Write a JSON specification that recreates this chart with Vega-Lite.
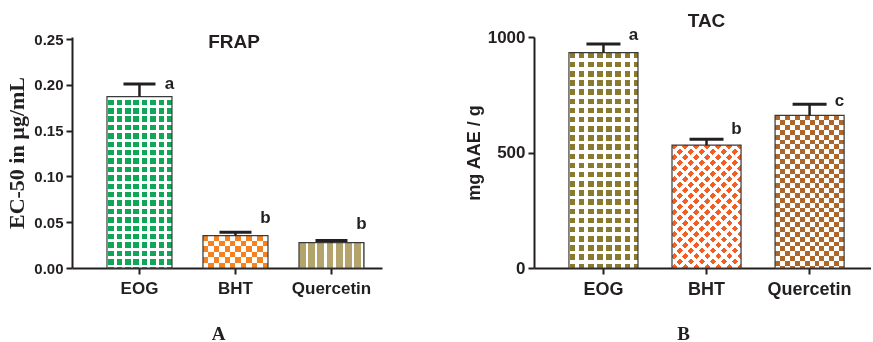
{
  "$schema": "https://vega.github.io/schema/vega-lite/v6.json",
  "background": "white",
  "padding": {"left": 5, "top": 11, "right": 0, "bottom": 0},
  "spacing": 83,
  "datasets": {
    "frap": [
      {"name": "EOG", "value": 0.187, "err": 0.201, "letter": "a", "letter_at": 0.2006},
      {"name": "BHT", "value": 0.0353, "err": 0.039, "letter": "b", "letter_at": 0.055},
      {"name": "Quercetin", "value": 0.0276, "err": 0.030, "letter": "b", "letter_at": 0.048}
    ],
    "tac": [
      {"name": "EOG", "value": 932, "err": 970, "letter": "a", "letter_at": 1009},
      {"name": "BHT", "value": 532, "err": 557, "letter": "b", "letter_at": 603},
      {"name": "Quercetin", "value": 661, "err": 709, "letter": "c", "letter_at": 723}
    ]
  },
  "hconcat": [
    {
      "width": 310,
      "height": 231,
      "data": {"name": "frap"},
      "title": {"text": "FRAP", "offset": -20, "dx": 7},
      "encoding": {
        "x": {
          "field": "name", "type": "nominal", "sort": null,
          "scale": {"domain": ["EOG", "BHT", "Quercetin"], "paddingInner": 0.323, "paddingOuter": 0.276, "align": 0.66},
          "axis": {"title": "A", "titleX": 146, "labelFontSize": 17, "titlePadding": 28}
        },
        "y": {
          "field": "value", "type": "quantitative", "title": "EC-50 in µg/mL",
          "scale": {"domain": [0, 0.2522], "nice": false},
          "axis": {"values": [0, 0.05, 0.1, 0.15, 0.2, 0.25], "format": ".2f", "labelFontSize": 15,
                   "titleFont": "Liberation Serif", "titleFontSize": 22, "titlePadding": 5}
        }
      },
      "layer": [
        {
          "transform": [{"filter": "datum.name === 'EOG'"}],
          "mark": {"type": "bar", "fill": {"gradient": "linear", "x1": 0, "y1": 0, "x2": 1, "y2": 0, "stops": [
            {"offset": 0, "color": "#fff"}, {"offset": 0.02, "color": "#fff"}, {"offset": 0.02, "color": "#10a657"}, {"offset": 0.105, "color": "#10a657"},
            {"offset": 0.105, "color": "#fff"}, {"offset": 0.149, "color": "#fff"}, {"offset": 0.149, "color": "#10a657"}, {"offset": 0.234, "color": "#10a657"},
            {"offset": 0.234, "color": "#fff"}, {"offset": 0.278, "color": "#fff"}, {"offset": 0.278, "color": "#10a657"}, {"offset": 0.363, "color": "#10a657"},
            {"offset": 0.363, "color": "#fff"}, {"offset": 0.407, "color": "#fff"}, {"offset": 0.407, "color": "#10a657"}, {"offset": 0.492, "color": "#10a657"},
            {"offset": 0.492, "color": "#fff"}, {"offset": 0.536, "color": "#fff"}, {"offset": 0.536, "color": "#10a657"}, {"offset": 0.621, "color": "#10a657"},
            {"offset": 0.621, "color": "#fff"}, {"offset": 0.665, "color": "#fff"}, {"offset": 0.665, "color": "#10a657"}, {"offset": 0.75, "color": "#10a657"},
            {"offset": 0.75, "color": "#fff"}, {"offset": 0.794, "color": "#fff"}, {"offset": 0.794, "color": "#10a657"}, {"offset": 0.879, "color": "#10a657"},
            {"offset": 0.879, "color": "#fff"}, {"offset": 0.923, "color": "#fff"}, {"offset": 0.923, "color": "#10a657"}, {"offset": 1, "color": "#10a657"}
          ]}}
        },
        {
          "transform": [{"filter": "datum.name === 'EOG'"}],
          "mark": {"type": "bar", "fill": {"gradient": "linear", "x1": 0, "y1": 0, "x2": 0, "y2": 1, "stops": [
            {"offset": 0, "color": "#fff"}, {"offset": 0.017, "color": "#fff"}, {"offset": 0.017, "color": "rgba(255,255,255,0)"}, {"offset": 0.049, "color": "rgba(255,255,255,0)"},
            {"offset": 0.049, "color": "#fff"}, {"offset": 0.066, "color": "#fff"}, {"offset": 0.066, "color": "rgba(255,255,255,0)"}, {"offset": 0.098, "color": "rgba(255,255,255,0)"},
            {"offset": 0.098, "color": "#fff"}, {"offset": 0.115, "color": "#fff"}, {"offset": 0.115, "color": "rgba(255,255,255,0)"}, {"offset": 0.147, "color": "rgba(255,255,255,0)"},
            {"offset": 0.147, "color": "#fff"}, {"offset": 0.164, "color": "#fff"}, {"offset": 0.164, "color": "rgba(255,255,255,0)"}, {"offset": 0.196, "color": "rgba(255,255,255,0)"},
            {"offset": 0.196, "color": "#fff"}, {"offset": 0.213, "color": "#fff"}, {"offset": 0.213, "color": "rgba(255,255,255,0)"}, {"offset": 0.245, "color": "rgba(255,255,255,0)"},
            {"offset": 0.245, "color": "#fff"}, {"offset": 0.262, "color": "#fff"}, {"offset": 0.262, "color": "rgba(255,255,255,0)"}, {"offset": 0.294, "color": "rgba(255,255,255,0)"},
            {"offset": 0.294, "color": "#fff"}, {"offset": 0.311, "color": "#fff"}, {"offset": 0.311, "color": "rgba(255,255,255,0)"}, {"offset": 0.343, "color": "rgba(255,255,255,0)"},
            {"offset": 0.343, "color": "#fff"}, {"offset": 0.36, "color": "#fff"}, {"offset": 0.36, "color": "rgba(255,255,255,0)"}, {"offset": 0.392, "color": "rgba(255,255,255,0)"},
            {"offset": 0.392, "color": "#fff"}, {"offset": 0.409, "color": "#fff"}, {"offset": 0.409, "color": "rgba(255,255,255,0)"}, {"offset": 0.441, "color": "rgba(255,255,255,0)"},
            {"offset": 0.441, "color": "#fff"}, {"offset": 0.458, "color": "#fff"}, {"offset": 0.458, "color": "rgba(255,255,255,0)"}, {"offset": 0.49, "color": "rgba(255,255,255,0)"},
            {"offset": 0.49, "color": "#fff"}, {"offset": 0.507, "color": "#fff"}, {"offset": 0.507, "color": "rgba(255,255,255,0)"}, {"offset": 0.539, "color": "rgba(255,255,255,0)"},
            {"offset": 0.539, "color": "#fff"}, {"offset": 0.556, "color": "#fff"}, {"offset": 0.556, "color": "rgba(255,255,255,0)"}, {"offset": 0.588, "color": "rgba(255,255,255,0)"},
            {"offset": 0.588, "color": "#fff"}, {"offset": 0.605, "color": "#fff"}, {"offset": 0.605, "color": "rgba(255,255,255,0)"}, {"offset": 0.637, "color": "rgba(255,255,255,0)"},
            {"offset": 0.637, "color": "#fff"}, {"offset": 0.654, "color": "#fff"}, {"offset": 0.654, "color": "rgba(255,255,255,0)"}, {"offset": 0.686, "color": "rgba(255,255,255,0)"},
            {"offset": 0.686, "color": "#fff"}, {"offset": 0.703, "color": "#fff"}, {"offset": 0.703, "color": "rgba(255,255,255,0)"}, {"offset": 0.735, "color": "rgba(255,255,255,0)"},
            {"offset": 0.735, "color": "#fff"}, {"offset": 0.752, "color": "#fff"}, {"offset": 0.752, "color": "rgba(255,255,255,0)"}, {"offset": 0.784, "color": "rgba(255,255,255,0)"},
            {"offset": 0.784, "color": "#fff"}, {"offset": 0.801, "color": "#fff"}, {"offset": 0.801, "color": "rgba(255,255,255,0)"}, {"offset": 0.833, "color": "rgba(255,255,255,0)"},
            {"offset": 0.833, "color": "#fff"}, {"offset": 0.85, "color": "#fff"}, {"offset": 0.85, "color": "rgba(255,255,255,0)"}, {"offset": 0.882, "color": "rgba(255,255,255,0)"},
            {"offset": 0.882, "color": "#fff"}, {"offset": 0.899, "color": "#fff"}, {"offset": 0.899, "color": "rgba(255,255,255,0)"}, {"offset": 0.931, "color": "rgba(255,255,255,0)"},
            {"offset": 0.931, "color": "#fff"}, {"offset": 0.948, "color": "#fff"}, {"offset": 0.948, "color": "rgba(255,255,255,0)"}, {"offset": 0.98, "color": "rgba(255,255,255,0)"},
            {"offset": 0.98, "color": "#fff"}, {"offset": 0.997, "color": "#fff"}, {"offset": 0.997, "color": "rgba(255,255,255,0)"}, {"offset": 1, "color": "rgba(255,255,255,0)"}
          ]}}
        },
        {
          "transform": [{"filter": "datum.name === 'BHT'"}],
          "mark": {"type": "bar", "fill": {"gradient": "linear", "x1": 0, "y1": 0, "x2": 1, "y2": 0, "stops": [
            {"offset": 0, "color": "#000"}, {"offset": 0.0833, "color": "#000"}, {"offset": 0.0833, "color": "#fff"}, {"offset": 0.1667, "color": "#fff"},
            {"offset": 0.1667, "color": "#000"}, {"offset": 0.25, "color": "#000"}, {"offset": 0.25, "color": "#fff"}, {"offset": 0.3333, "color": "#fff"},
            {"offset": 0.3333, "color": "#000"}, {"offset": 0.4167, "color": "#000"}, {"offset": 0.4167, "color": "#fff"}, {"offset": 0.5, "color": "#fff"},
            {"offset": 0.5, "color": "#000"}, {"offset": 0.5833, "color": "#000"}, {"offset": 0.5833, "color": "#fff"}, {"offset": 0.6667, "color": "#fff"},
            {"offset": 0.6667, "color": "#000"}, {"offset": 0.75, "color": "#000"}, {"offset": 0.75, "color": "#fff"}, {"offset": 0.8333, "color": "#fff"},
            {"offset": 0.8333, "color": "#000"}, {"offset": 0.9167, "color": "#000"}, {"offset": 0.9167, "color": "#fff"}, {"offset": 1, "color": "#fff"}
          ]}}
        },
        {
          "transform": [{"filter": "datum.name === 'BHT'"}],
          "mark": {"type": "bar", "blend": "difference", "fill": {"gradient": "linear", "x1": 0, "y1": 0, "x2": 0, "y2": 1, "stops": [
            {"offset": 0, "color": "rgba(255,255,255,0)"}, {"offset": 0.1667, "color": "rgba(255,255,255,0)"}, {"offset": 0.1667, "color": "#fff"}, {"offset": 0.3333, "color": "#fff"},
            {"offset": 0.3333, "color": "rgba(255,255,255,0)"}, {"offset": 0.5, "color": "rgba(255,255,255,0)"}, {"offset": 0.5, "color": "#fff"}, {"offset": 0.6667, "color": "#fff"},
            {"offset": 0.6667, "color": "rgba(255,255,255,0)"}, {"offset": 0.8333, "color": "rgba(255,255,255,0)"}, {"offset": 0.8333, "color": "#fff"}, {"offset": 1, "color": "#fff"}
          ]}}
        },
        {
          "transform": [{"filter": "datum.name === 'BHT'"}],
          "mark": {"type": "bar", "blend": "lighten", "fill": "#f5821f"}
        },
        {
          "transform": [{"filter": "datum.name === 'Quercetin'"}],
          "mark": {"type": "bar", "fill": {"gradient": "linear", "x1": 0, "y1": 0, "x2": 1, "y2": 0, "stops": [
            {"offset": 0, "color": "#b2a46c"}, {"offset": 0.1035, "color": "#b2a46c"}, {"offset": 0.1035, "color": "#fff"}, {"offset": 0.1415, "color": "#fff"},
            {"offset": 0.1415, "color": "#b2a46c"}, {"offset": 0.245, "color": "#b2a46c"}, {"offset": 0.245, "color": "#fff"}, {"offset": 0.283, "color": "#fff"},
            {"offset": 0.283, "color": "#b2a46c"}, {"offset": 0.3865, "color": "#b2a46c"}, {"offset": 0.3865, "color": "#fff"}, {"offset": 0.4245, "color": "#fff"},
            {"offset": 0.4245, "color": "#b2a46c"}, {"offset": 0.528, "color": "#b2a46c"}, {"offset": 0.528, "color": "#fff"}, {"offset": 0.566, "color": "#fff"},
            {"offset": 0.566, "color": "#b2a46c"}, {"offset": 0.6695, "color": "#b2a46c"}, {"offset": 0.6695, "color": "#fff"}, {"offset": 0.7075, "color": "#fff"},
            {"offset": 0.7075, "color": "#b2a46c"}, {"offset": 0.811, "color": "#b2a46c"}, {"offset": 0.811, "color": "#fff"}, {"offset": 0.849, "color": "#fff"},
            {"offset": 0.849, "color": "#b2a46c"}, {"offset": 0.9525, "color": "#b2a46c"}, {"offset": 0.9525, "color": "#fff"}, {"offset": 0.9905, "color": "#fff"},
            {"offset": 0.9905, "color": "#b2a46c"}, {"offset": 1, "color": "#b2a46c"}
          ]}}
        },
        {
          "mark": {"type": "bar", "fill": "transparent", "stroke": "#3a3a3a", "strokeWidth": 1.2}
        },
        {
          "mark": {"type": "rule", "color": "#231f20", "strokeWidth": 2.5},
          "encoding": {
            "y": {"field": "value", "type": "quantitative", "title": "EC-50 in µg/mL", "scale": {"domain": [0, 0.2522], "nice": false}},
            "y2": {"field": "err"}
          }
        },
        {
          "mark": {"type": "tick", "color": "#231f20", "thickness": 3, "size": 32, "opacity": 1, "orient": "horizontal"},
          "encoding": {
            "y": {"field": "err", "type": "quantitative", "title": "EC-50 in µg/mL", "scale": {"domain": [0, 0.2522], "nice": false}}
          }
        },
        {
          "mark": {"type": "text", "font": "Liberation Sans", "fontWeight": "bold", "fontSize": 17, "color": "#231f20", "dx": 30, "baseline": "middle", "align": "center"},
          "encoding": {
            "y": {"field": "letter_at", "type": "quantitative", "title": "EC-50 in µg/mL", "scale": {"domain": [0, 0.2522], "nice": false}},
            "text": {"field": "letter"}
          }
        }
      ]
    },
    {
      "width": 337,
      "height": 231,
      "data": {"name": "tac"},
      "title": {"text": "TAC", "offset": -5, "dx": 4},
      "encoding": {
        "x": {
          "field": "name", "type": "nominal", "sort": null,
          "scale": {"domain": ["EOG", "BHT", "Quercetin"], "paddingInner": 0.33, "paddingOuter": 0.3, "align": 0.565},
          "axis": {"title": "B", "titleX": 149, "labelFontSize": 18, "titlePadding": 26}
        },
        "y": {
          "field": "value", "type": "quantitative", "title": "mg AAE / g",
          "scale": {"domain": [0, 1000], "nice": false},
          "axis": {"values": [0, 500, 1000], "format": "d", "labelFontSize": 17, "titleFont": "Liberation Sans", "titleFontSize": 18, "titlePadding": 4}
        }
      },
      "layer": [
        {
          "transform": [{"filter": "datum.name === 'EOG'"}],
          "mark": {"type": "bar", "fill": {"gradient": "linear", "x1": 0, "y1": 0, "x2": 1, "y2": 0, "stops": [
            {"offset": 0, "color": "#fff"}, {"offset": 0.01, "color": "#fff"}, {"offset": 0.01, "color": "#8a7a30"}, {"offset": 0.09, "color": "#8a7a30"},
            {"offset": 0.09, "color": "#fff"}, {"offset": 0.143, "color": "#fff"}, {"offset": 0.143, "color": "#8a7a30"}, {"offset": 0.223, "color": "#8a7a30"},
            {"offset": 0.223, "color": "#fff"}, {"offset": 0.276, "color": "#fff"}, {"offset": 0.276, "color": "#8a7a30"}, {"offset": 0.356, "color": "#8a7a30"},
            {"offset": 0.356, "color": "#fff"}, {"offset": 0.409, "color": "#fff"}, {"offset": 0.409, "color": "#8a7a30"}, {"offset": 0.489, "color": "#8a7a30"},
            {"offset": 0.489, "color": "#fff"}, {"offset": 0.542, "color": "#fff"}, {"offset": 0.542, "color": "#8a7a30"}, {"offset": 0.622, "color": "#8a7a30"},
            {"offset": 0.622, "color": "#fff"}, {"offset": 0.674, "color": "#fff"}, {"offset": 0.674, "color": "#8a7a30"}, {"offset": 0.754, "color": "#8a7a30"},
            {"offset": 0.754, "color": "#fff"}, {"offset": 0.807, "color": "#fff"}, {"offset": 0.807, "color": "#8a7a30"}, {"offset": 0.887, "color": "#8a7a30"},
            {"offset": 0.887, "color": "#fff"}, {"offset": 0.94, "color": "#fff"}, {"offset": 0.94, "color": "#8a7a30"}, {"offset": 1, "color": "#8a7a30"}
          ]}}
        },
        {
          "transform": [{"filter": "datum.name === 'EOG'"}],
          "mark": {"type": "bar", "fill": {"gradient": "linear", "x1": 0, "y1": 0, "x2": 0, "y2": 1, "stops": [
            {"offset": 0, "color": "rgba(255,255,255,0)"}, {"offset": 0.0256, "color": "rgba(255,255,255,0)"},
            {"offset": 0.0256, "color": "#fff"}, {"offset": 0.0426, "color": "#fff"}, {"offset": 0.0426, "color": "rgba(255,255,255,0)"}, {"offset": 0.0682, "color": "rgba(255,255,255,0)"},
            {"offset": 0.0682, "color": "#fff"}, {"offset": 0.0852, "color": "#fff"}, {"offset": 0.0852, "color": "rgba(255,255,255,0)"}, {"offset": 0.1108, "color": "rgba(255,255,255,0)"},
            {"offset": 0.1108, "color": "#fff"}, {"offset": 0.1278, "color": "#fff"}, {"offset": 0.1278, "color": "rgba(255,255,255,0)"}, {"offset": 0.1534, "color": "rgba(255,255,255,0)"},
            {"offset": 0.1534, "color": "#fff"}, {"offset": 0.1704, "color": "#fff"}, {"offset": 0.1704, "color": "rgba(255,255,255,0)"}, {"offset": 0.196, "color": "rgba(255,255,255,0)"},
            {"offset": 0.196, "color": "#fff"}, {"offset": 0.213, "color": "#fff"}, {"offset": 0.213, "color": "rgba(255,255,255,0)"}, {"offset": 0.2386, "color": "rgba(255,255,255,0)"},
            {"offset": 0.2386, "color": "#fff"}, {"offset": 0.2556, "color": "#fff"}, {"offset": 0.2556, "color": "rgba(255,255,255,0)"}, {"offset": 0.2812, "color": "rgba(255,255,255,0)"},
            {"offset": 0.2812, "color": "#fff"}, {"offset": 0.2982, "color": "#fff"}, {"offset": 0.2982, "color": "rgba(255,255,255,0)"}, {"offset": 0.3238, "color": "rgba(255,255,255,0)"},
            {"offset": 0.3238, "color": "#fff"}, {"offset": 0.3408, "color": "#fff"}, {"offset": 0.3408, "color": "rgba(255,255,255,0)"}, {"offset": 0.3664, "color": "rgba(255,255,255,0)"},
            {"offset": 0.3664, "color": "#fff"}, {"offset": 0.3834, "color": "#fff"}, {"offset": 0.3834, "color": "rgba(255,255,255,0)"}, {"offset": 0.409, "color": "rgba(255,255,255,0)"},
            {"offset": 0.409, "color": "#fff"}, {"offset": 0.426, "color": "#fff"}, {"offset": 0.426, "color": "rgba(255,255,255,0)"}, {"offset": 0.4516, "color": "rgba(255,255,255,0)"},
            {"offset": 0.4516, "color": "#fff"}, {"offset": 0.4686, "color": "#fff"}, {"offset": 0.4686, "color": "rgba(255,255,255,0)"}, {"offset": 0.4942, "color": "rgba(255,255,255,0)"},
            {"offset": 0.4942, "color": "#fff"}, {"offset": 0.5112, "color": "#fff"}, {"offset": 0.5112, "color": "rgba(255,255,255,0)"}, {"offset": 0.5368, "color": "rgba(255,255,255,0)"},
            {"offset": 0.5368, "color": "#fff"}, {"offset": 0.5538, "color": "#fff"}, {"offset": 0.5538, "color": "rgba(255,255,255,0)"}, {"offset": 0.5794, "color": "rgba(255,255,255,0)"},
            {"offset": 0.5794, "color": "#fff"}, {"offset": 0.5964, "color": "#fff"}, {"offset": 0.5964, "color": "rgba(255,255,255,0)"}, {"offset": 0.622, "color": "rgba(255,255,255,0)"},
            {"offset": 0.622, "color": "#fff"}, {"offset": 0.639, "color": "#fff"}, {"offset": 0.639, "color": "rgba(255,255,255,0)"}, {"offset": 0.6646, "color": "rgba(255,255,255,0)"},
            {"offset": 0.6646, "color": "#fff"}, {"offset": 0.6816, "color": "#fff"}, {"offset": 0.6816, "color": "rgba(255,255,255,0)"}, {"offset": 0.7072, "color": "rgba(255,255,255,0)"},
            {"offset": 0.7072, "color": "#fff"}, {"offset": 0.7242, "color": "#fff"}, {"offset": 0.7242, "color": "rgba(255,255,255,0)"}, {"offset": 0.7498, "color": "rgba(255,255,255,0)"},
            {"offset": 0.7498, "color": "#fff"}, {"offset": 0.7668, "color": "#fff"}, {"offset": 0.7668, "color": "rgba(255,255,255,0)"}, {"offset": 0.7924, "color": "rgba(255,255,255,0)"},
            {"offset": 0.7924, "color": "#fff"}, {"offset": 0.8094, "color": "#fff"}, {"offset": 0.8094, "color": "rgba(255,255,255,0)"}, {"offset": 0.835, "color": "rgba(255,255,255,0)"},
            {"offset": 0.835, "color": "#fff"}, {"offset": 0.852, "color": "#fff"}, {"offset": 0.852, "color": "rgba(255,255,255,0)"}, {"offset": 0.8776, "color": "rgba(255,255,255,0)"},
            {"offset": 0.8776, "color": "#fff"}, {"offset": 0.8946, "color": "#fff"}, {"offset": 0.8946, "color": "rgba(255,255,255,0)"}, {"offset": 0.9202, "color": "rgba(255,255,255,0)"},
            {"offset": 0.9202, "color": "#fff"}, {"offset": 0.9372, "color": "#fff"}, {"offset": 0.9372, "color": "rgba(255,255,255,0)"}, {"offset": 0.9628, "color": "rgba(255,255,255,0)"},
            {"offset": 0.9628, "color": "#fff"}, {"offset": 0.9798, "color": "#fff"}, {"offset": 0.9798, "color": "rgba(255,255,255,0)"}, {"offset": 1, "color": "rgba(255,255,255,0)"}
          ]}}
        },
        {
          "transform": [{"filter": "datum.name === 'BHT'"}],
          "mark": {"type": "bar", "fill": "#f15f24"}
        },
        {
          "transform": [{"filter": "datum.name === 'BHT'"}],
          "mark": {"type": "bar", "fill": {"gradient": "linear", "x1": 0, "y1": 0, "x2": 0.6665, "y2": 1.1873, "stops": [
            {"offset": 0, "color": "rgba(255,255,255,0)"}, {"offset": 0.0323, "color": "rgba(255,255,255,0)"},
            {"offset": 0.0323, "color": "#fff"}, {"offset": 0.0573, "color": "#fff"}, {"offset": 0.0573, "color": "rgba(255,255,255,0)"}, {"offset": 0.0896, "color": "rgba(255,255,255,0)"},
            {"offset": 0.0896, "color": "#fff"}, {"offset": 0.1146, "color": "#fff"}, {"offset": 0.1146, "color": "rgba(255,255,255,0)"}, {"offset": 0.1469, "color": "rgba(255,255,255,0)"},
            {"offset": 0.1469, "color": "#fff"}, {"offset": 0.1719, "color": "#fff"}, {"offset": 0.1719, "color": "rgba(255,255,255,0)"}, {"offset": 0.2042, "color": "rgba(255,255,255,0)"},
            {"offset": 0.2042, "color": "#fff"}, {"offset": 0.2292, "color": "#fff"}, {"offset": 0.2292, "color": "rgba(255,255,255,0)"}, {"offset": 0.2615, "color": "rgba(255,255,255,0)"},
            {"offset": 0.2615, "color": "#fff"}, {"offset": 0.2865, "color": "#fff"}, {"offset": 0.2865, "color": "rgba(255,255,255,0)"}, {"offset": 0.3188, "color": "rgba(255,255,255,0)"},
            {"offset": 0.3188, "color": "#fff"}, {"offset": 0.3438, "color": "#fff"}, {"offset": 0.3438, "color": "rgba(255,255,255,0)"}, {"offset": 0.3761, "color": "rgba(255,255,255,0)"},
            {"offset": 0.3761, "color": "#fff"}, {"offset": 0.4011, "color": "#fff"}, {"offset": 0.4011, "color": "rgba(255,255,255,0)"}, {"offset": 0.4334, "color": "rgba(255,255,255,0)"},
            {"offset": 0.4334, "color": "#fff"}, {"offset": 0.4584, "color": "#fff"}, {"offset": 0.4584, "color": "rgba(255,255,255,0)"}, {"offset": 0.4907, "color": "rgba(255,255,255,0)"},
            {"offset": 0.4907, "color": "#fff"}, {"offset": 0.5157, "color": "#fff"}, {"offset": 0.5157, "color": "rgba(255,255,255,0)"}, {"offset": 0.548, "color": "rgba(255,255,255,0)"},
            {"offset": 0.548, "color": "#fff"}, {"offset": 0.573, "color": "#fff"}, {"offset": 0.573, "color": "rgba(255,255,255,0)"}, {"offset": 0.6053, "color": "rgba(255,255,255,0)"},
            {"offset": 0.6053, "color": "#fff"}, {"offset": 0.6303, "color": "#fff"}, {"offset": 0.6303, "color": "rgba(255,255,255,0)"}, {"offset": 0.6626, "color": "rgba(255,255,255,0)"},
            {"offset": 0.6626, "color": "#fff"}, {"offset": 0.6876, "color": "#fff"}, {"offset": 0.6876, "color": "rgba(255,255,255,0)"}, {"offset": 0.7199, "color": "rgba(255,255,255,0)"},
            {"offset": 0.7199, "color": "#fff"}, {"offset": 0.7449, "color": "#fff"}, {"offset": 0.7449, "color": "rgba(255,255,255,0)"}, {"offset": 0.7772, "color": "rgba(255,255,255,0)"},
            {"offset": 0.7772, "color": "#fff"}, {"offset": 0.8022, "color": "#fff"}, {"offset": 0.8022, "color": "rgba(255,255,255,0)"}, {"offset": 0.8345, "color": "rgba(255,255,255,0)"},
            {"offset": 0.8345, "color": "#fff"}, {"offset": 0.8595, "color": "#fff"}, {"offset": 0.8595, "color": "rgba(255,255,255,0)"}, {"offset": 0.8918, "color": "rgba(255,255,255,0)"},
            {"offset": 0.8918, "color": "#fff"}, {"offset": 0.9168, "color": "#fff"}, {"offset": 0.9168, "color": "rgba(255,255,255,0)"}, {"offset": 0.9491, "color": "rgba(255,255,255,0)"},
            {"offset": 0.9491, "color": "#fff"}, {"offset": 0.9741, "color": "#fff"}, {"offset": 0.9741, "color": "rgba(255,255,255,0)"}, {"offset": 1, "color": "rgba(255,255,255,0)"}
          ]}}
        },
        {
          "transform": [{"filter": "datum.name === 'BHT'"}],
          "mark": {"type": "bar", "fill": {"gradient": "linear", "x1": 0, "y1": 1, "x2": 0.6665, "y2": -0.1873, "stops": [
            {"offset": 0, "color": "rgba(255,255,255,0)"}, {"offset": 0.0323, "color": "rgba(255,255,255,0)"},
            {"offset": 0.0323, "color": "#fff"}, {"offset": 0.0573, "color": "#fff"}, {"offset": 0.0573, "color": "rgba(255,255,255,0)"}, {"offset": 0.0896, "color": "rgba(255,255,255,0)"},
            {"offset": 0.0896, "color": "#fff"}, {"offset": 0.1146, "color": "#fff"}, {"offset": 0.1146, "color": "rgba(255,255,255,0)"}, {"offset": 0.1469, "color": "rgba(255,255,255,0)"},
            {"offset": 0.1469, "color": "#fff"}, {"offset": 0.1719, "color": "#fff"}, {"offset": 0.1719, "color": "rgba(255,255,255,0)"}, {"offset": 0.2042, "color": "rgba(255,255,255,0)"},
            {"offset": 0.2042, "color": "#fff"}, {"offset": 0.2292, "color": "#fff"}, {"offset": 0.2292, "color": "rgba(255,255,255,0)"}, {"offset": 0.2615, "color": "rgba(255,255,255,0)"},
            {"offset": 0.2615, "color": "#fff"}, {"offset": 0.2865, "color": "#fff"}, {"offset": 0.2865, "color": "rgba(255,255,255,0)"}, {"offset": 0.3188, "color": "rgba(255,255,255,0)"},
            {"offset": 0.3188, "color": "#fff"}, {"offset": 0.3438, "color": "#fff"}, {"offset": 0.3438, "color": "rgba(255,255,255,0)"}, {"offset": 0.3761, "color": "rgba(255,255,255,0)"},
            {"offset": 0.3761, "color": "#fff"}, {"offset": 0.4011, "color": "#fff"}, {"offset": 0.4011, "color": "rgba(255,255,255,0)"}, {"offset": 0.4334, "color": "rgba(255,255,255,0)"},
            {"offset": 0.4334, "color": "#fff"}, {"offset": 0.4584, "color": "#fff"}, {"offset": 0.4584, "color": "rgba(255,255,255,0)"}, {"offset": 0.4907, "color": "rgba(255,255,255,0)"},
            {"offset": 0.4907, "color": "#fff"}, {"offset": 0.5157, "color": "#fff"}, {"offset": 0.5157, "color": "rgba(255,255,255,0)"}, {"offset": 0.548, "color": "rgba(255,255,255,0)"},
            {"offset": 0.548, "color": "#fff"}, {"offset": 0.573, "color": "#fff"}, {"offset": 0.573, "color": "rgba(255,255,255,0)"}, {"offset": 0.6053, "color": "rgba(255,255,255,0)"},
            {"offset": 0.6053, "color": "#fff"}, {"offset": 0.6303, "color": "#fff"}, {"offset": 0.6303, "color": "rgba(255,255,255,0)"}, {"offset": 0.6626, "color": "rgba(255,255,255,0)"},
            {"offset": 0.6626, "color": "#fff"}, {"offset": 0.6876, "color": "#fff"}, {"offset": 0.6876, "color": "rgba(255,255,255,0)"}, {"offset": 0.7199, "color": "rgba(255,255,255,0)"},
            {"offset": 0.7199, "color": "#fff"}, {"offset": 0.7449, "color": "#fff"}, {"offset": 0.7449, "color": "rgba(255,255,255,0)"}, {"offset": 0.7772, "color": "rgba(255,255,255,0)"},
            {"offset": 0.7772, "color": "#fff"}, {"offset": 0.8022, "color": "#fff"}, {"offset": 0.8022, "color": "rgba(255,255,255,0)"}, {"offset": 0.8345, "color": "rgba(255,255,255,0)"},
            {"offset": 0.8345, "color": "#fff"}, {"offset": 0.8595, "color": "#fff"}, {"offset": 0.8595, "color": "rgba(255,255,255,0)"}, {"offset": 0.8918, "color": "rgba(255,255,255,0)"},
            {"offset": 0.8918, "color": "#fff"}, {"offset": 0.9168, "color": "#fff"}, {"offset": 0.9168, "color": "rgba(255,255,255,0)"}, {"offset": 0.9491, "color": "rgba(255,255,255,0)"},
            {"offset": 0.9491, "color": "#fff"}, {"offset": 0.9741, "color": "#fff"}, {"offset": 0.9741, "color": "rgba(255,255,255,0)"}, {"offset": 1, "color": "rgba(255,255,255,0)"}
          ]}}
        },
        {
          "transform": [{"filter": "datum.name === 'Quercetin'"}],
          "mark": {"type": "bar", "fill": {"gradient": "linear", "x1": 0, "y1": 0, "x2": 1, "y2": 0, "stops": [
            {"offset": 0, "color": "#000"}, {"offset": 0.0714, "color": "#000"}, {"offset": 0.0714, "color": "#fff"}, {"offset": 0.1429, "color": "#fff"},
            {"offset": 0.1429, "color": "#000"}, {"offset": 0.2143, "color": "#000"}, {"offset": 0.2143, "color": "#fff"}, {"offset": 0.2857, "color": "#fff"},
            {"offset": 0.2857, "color": "#000"}, {"offset": 0.3571, "color": "#000"}, {"offset": 0.3571, "color": "#fff"}, {"offset": 0.4286, "color": "#fff"},
            {"offset": 0.4286, "color": "#000"}, {"offset": 0.5, "color": "#000"}, {"offset": 0.5, "color": "#fff"}, {"offset": 0.5714, "color": "#fff"},
            {"offset": 0.5714, "color": "#000"}, {"offset": 0.6429, "color": "#000"}, {"offset": 0.6429, "color": "#fff"}, {"offset": 0.7143, "color": "#fff"},
            {"offset": 0.7143, "color": "#000"}, {"offset": 0.7857, "color": "#000"}, {"offset": 0.7857, "color": "#fff"}, {"offset": 0.8571, "color": "#fff"},
            {"offset": 0.8571, "color": "#000"}, {"offset": 0.9286, "color": "#000"}, {"offset": 0.9286, "color": "#fff"}, {"offset": 1, "color": "#fff"}
          ]}}
        },
        {
          "transform": [{"filter": "datum.name === 'Quercetin'"}],
          "mark": {"type": "bar", "blend": "difference", "fill": {"gradient": "linear", "x1": 0, "y1": 0, "x2": 0, "y2": 1, "stops": [
            {"offset": 0, "color": "rgba(255,255,255,0)"}, {"offset": 0.0318, "color": "rgba(255,255,255,0)"},
            {"offset": 0.0318, "color": "#fff"}, {"offset": 0.0636, "color": "#fff"}, {"offset": 0.0636, "color": "rgba(255,255,255,0)"}, {"offset": 0.0954, "color": "rgba(255,255,255,0)"},
            {"offset": 0.0954, "color": "#fff"}, {"offset": 0.1272, "color": "#fff"}, {"offset": 0.1272, "color": "rgba(255,255,255,0)"}, {"offset": 0.159, "color": "rgba(255,255,255,0)"},
            {"offset": 0.159, "color": "#fff"}, {"offset": 0.1908, "color": "#fff"}, {"offset": 0.1908, "color": "rgba(255,255,255,0)"}, {"offset": 0.2226, "color": "rgba(255,255,255,0)"},
            {"offset": 0.2226, "color": "#fff"}, {"offset": 0.2544, "color": "#fff"}, {"offset": 0.2544, "color": "rgba(255,255,255,0)"}, {"offset": 0.2862, "color": "rgba(255,255,255,0)"},
            {"offset": 0.2862, "color": "#fff"}, {"offset": 0.318, "color": "#fff"}, {"offset": 0.318, "color": "rgba(255,255,255,0)"}, {"offset": 0.3498, "color": "rgba(255,255,255,0)"},
            {"offset": 0.3498, "color": "#fff"}, {"offset": 0.3816, "color": "#fff"}, {"offset": 0.3816, "color": "rgba(255,255,255,0)"}, {"offset": 0.4134, "color": "rgba(255,255,255,0)"},
            {"offset": 0.4134, "color": "#fff"}, {"offset": 0.4452, "color": "#fff"}, {"offset": 0.4452, "color": "rgba(255,255,255,0)"}, {"offset": 0.477, "color": "rgba(255,255,255,0)"},
            {"offset": 0.477, "color": "#fff"}, {"offset": 0.5088, "color": "#fff"}, {"offset": 0.5088, "color": "rgba(255,255,255,0)"}, {"offset": 0.5406, "color": "rgba(255,255,255,0)"},
            {"offset": 0.5406, "color": "#fff"}, {"offset": 0.5724, "color": "#fff"}, {"offset": 0.5724, "color": "rgba(255,255,255,0)"}, {"offset": 0.6042, "color": "rgba(255,255,255,0)"},
            {"offset": 0.6042, "color": "#fff"}, {"offset": 0.636, "color": "#fff"}, {"offset": 0.636, "color": "rgba(255,255,255,0)"}, {"offset": 0.6678, "color": "rgba(255,255,255,0)"},
            {"offset": 0.6678, "color": "#fff"}, {"offset": 0.6996, "color": "#fff"}, {"offset": 0.6996, "color": "rgba(255,255,255,0)"}, {"offset": 0.7314, "color": "rgba(255,255,255,0)"},
            {"offset": 0.7314, "color": "#fff"}, {"offset": 0.7632, "color": "#fff"}, {"offset": 0.7632, "color": "rgba(255,255,255,0)"}, {"offset": 0.795, "color": "rgba(255,255,255,0)"},
            {"offset": 0.795, "color": "#fff"}, {"offset": 0.8268, "color": "#fff"}, {"offset": 0.8268, "color": "rgba(255,255,255,0)"}, {"offset": 0.8586, "color": "rgba(255,255,255,0)"},
            {"offset": 0.8586, "color": "#fff"}, {"offset": 0.8904, "color": "#fff"}, {"offset": 0.8904, "color": "rgba(255,255,255,0)"}, {"offset": 0.9222, "color": "rgba(255,255,255,0)"},
            {"offset": 0.9222, "color": "#fff"}, {"offset": 0.954, "color": "#fff"}, {"offset": 0.954, "color": "rgba(255,255,255,0)"}, {"offset": 0.9858, "color": "rgba(255,255,255,0)"},
            {"offset": 0.9858, "color": "#fff"}, {"offset": 1, "color": "#fff"}
          ]}}
        },
        {
          "transform": [{"filter": "datum.name === 'Quercetin'"}],
          "mark": {"type": "bar", "blend": "lighten", "fill": "#ad672b"}
        },
        {
          "mark": {"type": "bar", "fill": "transparent", "stroke": "#3a3a3a", "strokeWidth": 1.2}
        },
        {
          "mark": {"type": "rule", "color": "#231f20", "strokeWidth": 2.5},
          "encoding": {
            "y": {"field": "value", "type": "quantitative", "title": "mg AAE / g", "scale": {"domain": [0, 1000], "nice": false}},
            "y2": {"field": "err"}
          }
        },
        {
          "mark": {"type": "tick", "color": "#231f20", "thickness": 3, "size": 34, "opacity": 1, "orient": "horizontal"},
          "encoding": {
            "y": {"field": "err", "type": "quantitative", "title": "mg AAE / g", "scale": {"domain": [0, 1000], "nice": false}}
          }
        },
        {
          "mark": {"type": "text", "font": "Liberation Sans", "fontWeight": "bold", "fontSize": 17, "color": "#231f20", "dx": 30, "baseline": "middle", "align": "center"},
          "encoding": {
            "y": {"field": "letter_at", "type": "quantitative", "title": "mg AAE / g", "scale": {"domain": [0, 1000], "nice": false}},
            "text": {"field": "letter"}
          }
        }
      ]
    }
  ],
  "config": {
    "view": {"stroke": null},
    "title": {"font": "Liberation Sans", "fontSize": 19, "fontWeight": "bold", "color": "#231f20", "anchor": "middle"},
    "axis": {
      "domainColor": "#231f20", "domainWidth": 2, "tickColor": "#231f20", "tickWidth": 2, "tickSize": 6,
      "labelFont": "Liberation Sans", "labelFontWeight": "bold", "labelColor": "#231f20", "grid": false,
      "titleColor": "#231f20", "titleFontWeight": "bold"
    },
    "axisX": {"labelAngle": 0, "labelPadding": 6, "titleFont": "Liberation Serif", "titleFontSize": 19},
    "axisY": {"labelPadding": 3}
  }
}
